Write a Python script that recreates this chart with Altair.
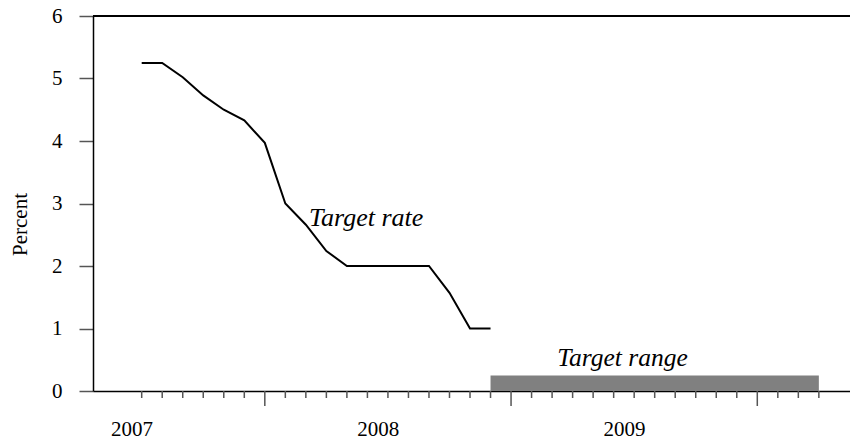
import altair as alt
import pandas as pd

# ---- data ----
rate_months = ["2007-07", "2007-08", "2007-09", "2007-10", "2007-11", "2007-12",
               "2008-01", "2008-02", "2008-03", "2008-04", "2008-05", "2008-06",
               "2008-07", "2008-08", "2008-09", "2008-10", "2008-11", "2008-12"]
rate_values = [5.25, 5.25, 5.02, 4.73, 4.50, 4.33,
               3.97, 3.00, 2.66, 2.24, 2.00, 2.00,
               2.00, 2.00, 2.00, 1.57, 1.00, 1.00]

range_start = "2008-12"
range_end = "2010-04"
range_low = 0.0
range_high = 0.25

tick_first = "2007-07"
tick_last = "2010-04"
year_labels = [2007, 2008, 2009]
y_ticks = [0, 1, 2, 3, 4, 5, 6]

annotations = ["Target rate", "Target range"]
annot_x = [8.15, 23.43]      # month index
annot_y = [2.64, 0.40]       # percent
annot_align = ["left", "center"]

FONT = "Liberation Serif"


def month_index(s):
    y, m = s.split("-")
    return (int(y) - 2007) * 12 + int(m) - 7


rate_df = pd.DataFrame({"m": [month_index(s) for s in rate_months], "rate": rate_values})
range_df = pd.DataFrame({"m0": [month_index(range_start)], "m1": [month_index(range_end)],
                         "lo": [range_low], "hi": [range_high]})
tick_df = pd.DataFrame({"m": list(range(month_index(tick_first), month_index(tick_last) + 1))})
tick_df["jan"] = (tick_df["m"] + 6) % 12 == 0
year_pos = [month_index(f"{y}-07") - 0.5 for y in year_labels]
ann_df = pd.DataFrame({"text": annotations, "m": annot_x, "v": annot_y, "align": annot_align})

W, H = 757, 375
PX_PER_MONTH = 20.52
x_scale = alt.Scale(domain=[-2.373, -2.373 + W / PX_PER_MONTH], nice=False, zero=False)
y_scale = alt.Scale(domain=[0, 6], nice=False)

x_axis = alt.Axis(values=year_pos, labelExpr="format(2007 + (datum.value + 0.5) / 12, 'd')",
                  ticks=False, tickSize=0, grid=False, title=None, labelPadding=27,
                  labelFont=FONT, labelFontSize=21, labelColor="black",
                  domainColor="black", domainWidth=1.5)
y_axis = alt.Axis(values=y_ticks, format="d", grid=False, title="Percent",
                  tickSize=14, tickColor="#555", tickWidth=1.5,
                  labelPadding=17, labelFont=FONT, labelFontSize=21, labelColor="black",
                  domainColor="black", domainWidth=1.5,
                  titleFont=FONT, titleFontSize=21, titleFontWeight="normal", titleColor="black",
                  titleAngle=-90, titleAlign="center", titleBaseline="middle",
                  titleX=-73, titleY=208)


def X(field):
    return alt.X(field, scale=x_scale, axis=x_axis)


def Y(field):
    return alt.Y(field, scale=y_scale, axis=y_axis)


bar = alt.Chart(range_df).mark_rect(color="#808080").encode(
    x=X("m0:Q"), x2="m1:Q", y=Y("lo:Q"), y2="hi:Q",
)

line = alt.Chart(rate_df).mark_line(color="black", strokeWidth=2).encode(
    x=X("m:Q"), y=Y("rate:Q"),
)

top = alt.Chart(rate_df).mark_rule(color="black", strokeWidth=1.5).encode(
    y=alt.datum(6, scale=y_scale, axis=y_axis),
)

short_ticks = alt.Chart(tick_df).transform_filter("!datum.jan").mark_rule(
    color="#555", strokeWidth=1.5).encode(
    x=X("m:Q"), y=alt.value(H), y2=alt.value(H + 7),
)
long_ticks = alt.Chart(tick_df).transform_filter("datum.jan").mark_rule(
    color="#555", strokeWidth=1.5).encode(
    x=X("m:Q"), y=alt.value(H), y2=alt.value(H + 15),
)

text_left = alt.Chart(ann_df).transform_filter("datum.align == 'left'").mark_text(
    font=FONT, fontSize=26, fontStyle="italic", color="black", align="left",
    baseline="alphabetic").encode(
    x=X("m:Q"), y=Y("v:Q"), text="text:N",
)
text_center = alt.Chart(ann_df).transform_filter("datum.align == 'center'").mark_text(
    font=FONT, fontSize=25.5, fontStyle="italic", color="black", align="center",
    baseline="alphabetic").encode(
    x=X("m:Q"), y=Y("v:Q"), text="text:N",
)

chart = alt.layer(bar, line, top, short_ticks, long_ticks, text_left, text_center).properties(
    width=W, height=H,
    autosize=alt.AutoSizeParams(type="none"),
    padding={"left": 85, "top": 8, "right": 0, "bottom": 51},
).configure_view(stroke=None)

chart.save("out.html", embed_options={"renderer": "svg", "actions": False})
